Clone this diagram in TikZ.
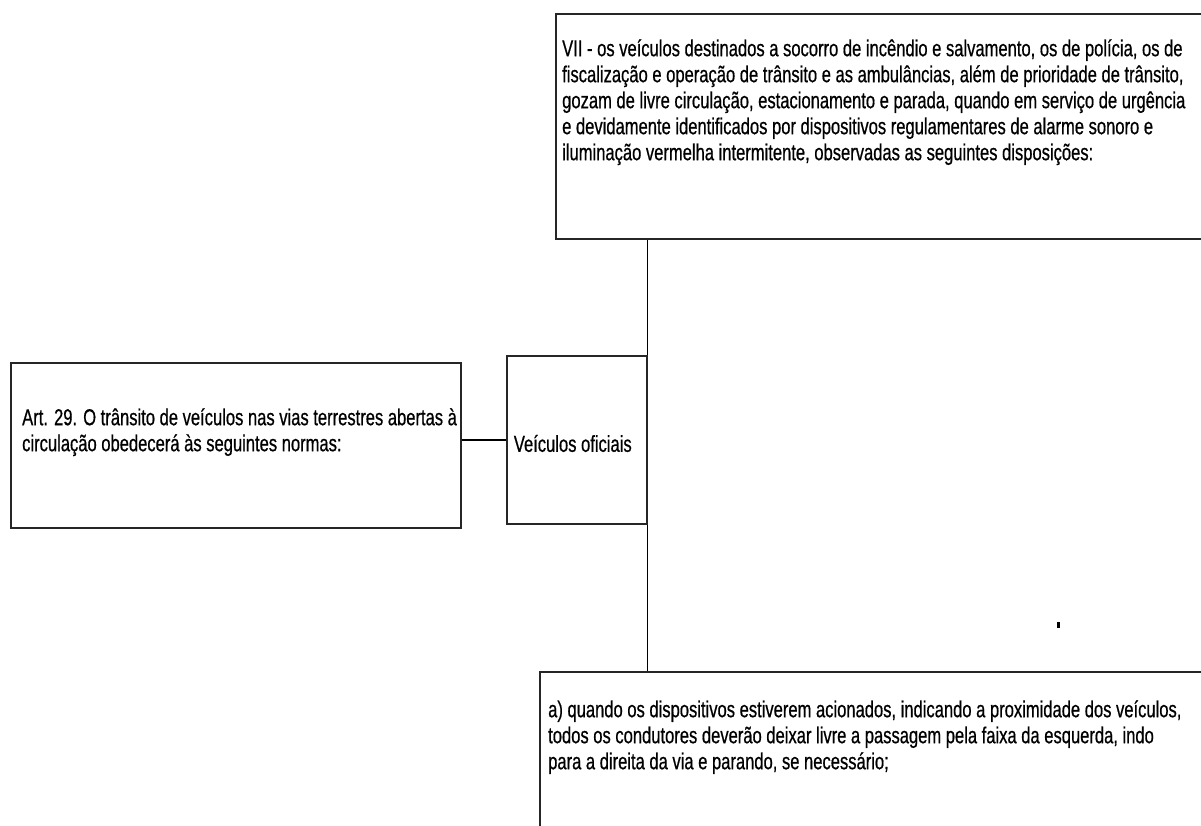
\documentclass[tikz,border=0pt]{standalone}
\usepackage{fontspec}
\setmainfont{Liberation Sans}[FakeStretch=0.72,FakeBold=0.6]
\newcommand{\firstline}{\rule{0pt}{18pt}}
\begin{document}
\begin{tikzpicture}[x=1pt,y=-1pt,
  boxframe/.style={draw=black!85,line width=1.6pt,rectangle,inner sep=0pt,anchor=north west},
  boxtext/.style={anchor=north west,align=left,inner sep=0pt,font=\fontsize{23}{26}\selectfont},
  link/.style={draw=black,line width=1pt}]
\useasboundingbox (0,0) rectangle (1201,825);
\clip (0,0) rectangle (1201,825);
% boxes
\node[boxframe,minimum width=660pt,minimum height=225pt] (top) at (555,13) {};
\node[boxframe,minimum width=450pt,minimum height=165pt] (art) at (10,362) {};
\node[boxframe,minimum width=140pt,minimum height=168pt] (veh) at (506,355) {};
\node[boxframe,minimum width=680pt,minimum height=170pt] (bot) at (539,671) {};
% texts
\node[boxtext] (toptext) at (562,38) {\firstline VII - os veículos destinados a socorro de incêndio e salvamento, os de polícia, os de\\
fiscalização e operação de trânsito e as ambulâncias, além de prioridade de trânsito,\\
gozam de livre circulação, estacionamento e parada, quando em serviço de urgência\\
e devidamente identificados por dispositivos regulamentares de alarme sonoro e\\
iluminação vermelha intermitente, observadas as seguintes disposições:};
\node[boxtext] (arttext) at (22,407) {\firstline Art. 29. O trânsito de veículos nas vias terrestres abertas à\\
circulação obedecerá às seguintes normas:};
\node[font=\fontsize{23}{26}\selectfont,inner sep=0pt,anchor=base,yshift=-12pt,xshift=-4pt] (vehtext) at (veh.center) {Veículos oficiais};
\node[boxtext] (bottext) at (548,699) {\firstline a) quando os dispositivos estiverem acionados, indicando a proximidade dos veículos,\\
todos os condutores deverão deixar livre a passagem pela faixa da esquerda, indo\\
para a direita da via e parando, se necessário;};
% connectors
\draw[link,line width=1.8pt] (veh.west) -- (veh.west -| art.east);
\draw[link] (veh.north east |- top.south) -- (veh.north east);
\draw[link] (veh.south east) -- (veh.south east |- bot.north);
% stray dot
\coordinate (dot) at (1058,625);
\fill (dot) ++(-1,-3) rectangle ++(2.5,6);
\end{tikzpicture}
\end{document}
